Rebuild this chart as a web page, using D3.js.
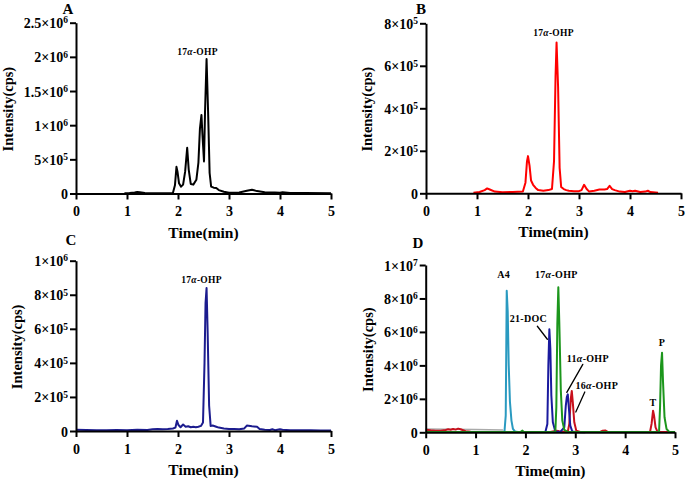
<!DOCTYPE html>
<html><head><meta charset="utf-8">
<script src="https://cdn.jsdelivr.net/npm/d3@7"></script>
<style>
body{margin:0;background:#fff}
svg{display:block}
text{font-family:"Liberation Serif","Times New Roman",serif;font-weight:bold;fill:#000}
</style>
</head><body>
<svg id="c" width="685" height="479"></svg>
<script>
// ---------- data ----------
const xTickValues = [0,1,2,3,4,5];
const xTickLabels = ["0","1","2","3","4","5"];

// Panel A (black)
const timeA = [0.95,1.05,1.15,1.2,1.25,1.35,1.5,1.7,1.9,1.94,1.97,1.99,2.02,2.06,2.1,2.14,2.18,2.21,2.25,2.3,2.36,2.4,2.43,2.46,2.48,2.51,2.53,2.56,2.59,2.62,2.65,2.7,2.75,2.8,2.9,3.0,3.2,3.35,3.45,3.55,3.7,3.9,4.0,4.05,4.2,4.5,5.0];
const intensityA = [5e3,8e3,1.5e4,2.2e4,1.8e4,8e3,5e3,5e3,6e3,1.2e5,3.9e5,3.2e5,1.5e5,1.0e5,1.3e5,3.2e5,6.7e5,3.5e5,1.4e5,1.3e5,2.0e5,4.5e5,9.5e5,1.15e6,8.5e5,4.7e5,1.2e6,1.97e6,1.2e6,3e5,1.0e5,8.5e4,8e4,5e4,2.5e4,1.2e4,1.5e4,4e4,5.5e4,3.5e4,2e4,1.5e4,1.2e4,1.8e4,8e3,6e3,5e3];
const yTickValuesA = [0,5e5,1e6,1.5e6,2e6,2.5e6];
const yTickLabelsA = ["0","5×10^5","1×10^6","1.5×10^6","2×10^6","2.5×10^6"];

// Panel B (red)
const timeB = [0.93,1.05,1.15,1.2,1.25,1.35,1.5,1.7,1.9,1.95,1.98,2.0,2.03,2.06,2.1,2.15,2.2,2.3,2.4,2.47,2.51,2.54,2.56,2.59,2.62,2.65,2.7,2.75,2.8,2.9,3.0,3.05,3.1,3.15,3.2,3.3,3.4,3.5,3.55,3.6,3.65,3.7,3.8,3.9,4.0,4.05,4.1,4.2,4.3,4.35,4.4,4.55];
const intensityB = [3e3,6e3,1.5e4,2.3e4,1.8e4,8e3,5e3,6e3,8e3,5e4,1.5e5,1.75e5,1.3e5,6e4,4e4,2.5e4,1.5e4,1.2e4,1.5e4,2e4,1.5e5,5.5e5,7.1e5,5e5,1.2e5,3e4,2e4,1.5e4,1.2e4,1e4,1e4,1.5e4,4e4,2e4,8e3,1.2e4,1.8e4,1.8e4,2e4,3.5e4,2e4,1.5e4,8e3,6e3,1.2e4,1e4,1.2e4,6e3,8e3,1.2e4,6e3,3e3];
const yTickValuesB = [0,2e5,4e5,6e5,8e5];
const yTickLabelsB = ["0","2×10^5","4×10^5","6×10^5","8×10^5"];

// Panel C (navy)
const timeC = [0,0.2,0.4,0.6,0.8,1.0,1.2,1.4,1.5,1.6,1.7,1.8,1.9,1.95,1.98,2.01,2.05,2.1,2.15,2.2,2.25,2.3,2.35,2.4,2.45,2.49,2.52,2.54,2.56,2.58,2.61,2.64,2.68,2.75,2.8,2.9,3.0,3.1,3.2,3.3,3.35,3.45,3.55,3.6,3.7,3.8,3.85,3.9,4.0,4.05,4.2,4.4,4.6,4.8,5.0];
const intensityC = [8e3,6e3,5e3,4e3,6e3,5e3,8e3,6e3,1e4,1.2e4,1e4,1.2e4,1.5e4,2e4,6e4,3.5e4,2.2e4,3.8e4,2.5e4,2.8e4,2.2e4,2.5e4,2.2e4,2.5e4,3e4,5e4,4e5,7.5e5,8.4e5,6e5,1.5e5,3e4,3.2e4,2.5e4,2e4,1.5e4,1.2e4,1.2e4,1e4,1.5e4,3.2e4,2.8e4,2.5e4,1.2e4,8e3,6e3,1e4,5e3,1e4,8e3,5e3,4e3,4e3,3e3,3e3];
const yTickValuesC = [0,2e5,4e5,6e5,8e5,1e6];
const yTickLabelsC = ["0","2×10^5","4×10^5","6×10^5","8×10^5","1×10^6"];

// Panel D (standards mixture)
const timeDGrey = [0,0.5,1.0,1.55];
const intensityDGrey = [2e5,1.8e5,1.6e5,1.4e5];
const timeDRed = [0,0.1,0.2,0.3,0.4,0.45,0.5,0.55,0.6,0.65,0.7,0.75,0.8,0.9,1.0,1.5,2.0,2.5,2.62,2.66,2.7,2.85,2.88,2.91,2.93,2.95,2.98,3.02,3.1,3.5,3.55,3.6,3.65,3.8,4.4,4.5,4.53,4.56,4.58,4.61,4.65,4.8,5];
const intensityDRed = [1.5e5,1.2e5,1e5,9e4,1.4e5,1.8e5,1.5e5,2e5,1.6e5,2.2e5,1.8e5,1.2e5,6e4,3e4,2e4,2e4,2e4,2e4,1e5,8e4,3e4,3e4,5e5,2e6,2.47e6,1.8e6,6e5,1e5,2e4,2e4,1e5,1.1e5,2e4,2e4,2e4,3e4,5e5,1.29e6,1e6,3e5,3e4,2e4,2e4];
const timeDTeal = [1.55,1.58,1.605,1.625,1.645,1.665,1.69,1.72,1.75,1.79,1.85];
const intensityDTeal = [2e4,5e4,1e6,8.46e6,7.2e6,4e6,1.8e6,7e5,2e5,5e4,2e4];
const timeDBlue = [2.0,2.4,2.44,2.46,2.48,2.5,2.52,2.55,2.6,2.7,2.78,2.81,2.83,2.85,2.87,2.9,2.94,3.0,3.2];
const intensityDBlue = [1e4,2e4,5e5,4e6,6.16e6,5e6,2.2e6,6e5,5e4,2e4,3e5,1.6e6,2.1e6,2.27e6,1.5e6,4e5,5e4,2e4,1e4];
const timeDGreen = [0,0.5,1,1.5,1.9,1.94,1.97,2.2,2.5,2.6,2.62,2.64,2.66,2.68,2.71,2.74,2.78,2.85,3.2,3.8,4.3,4.68,4.7,4.72,4.74,4.76,4.79,4.83,4.88,5];
const intensityDGreen = [2e4,2e4,2e4,2e4,2e4,1e5,2e4,2e4,2e4,3e4,1.5e6,6.5e6,8.67e6,6.5e6,2.5e6,7e5,1.5e5,3e4,2e4,2e4,2e4,2e4,1.5e6,4e6,4.76e6,3e6,9e5,2e5,4e4,2e4];
const yTickValuesD = [0,2e6,4e6,6e6,8e6,1e7];
const yTickLabelsD = ["0","2×10^6","4×10^6","6×10^6","8×10^6","1×10^7"];

const panelLetters = ["A","B","C","D"];
const peakNames = ["17α-OHP","A4","21-DOC","11α-OHP","16α-OHP","T","P"];
const xTitle = "Time(min)";
const yTitle = "Intensity(cps)";

// ---------- drawing ----------
const svg = d3.select("#c");

function zip(t,v){ return t.map((d,i)=>[d,v[i]]); }

function styledLabel(sel, s){
  const parts = s.split(/(α)/);
  parts.forEach(p=>{ if(!p) return; const ts = sel.append("tspan").text(p); if(p==="α") ts.attr("font-style","italic"); });
}

function panel(cfg){
  const g = svg.append("g");
  const x = d3.scaleLinear().domain([0,5]).range([cfg.x0,cfg.x1]);
  const y = d3.scaleLinear().domain([0,cfg.ymax]).range([cfg.y0,cfg.y1]);

  cfg.series.forEach(s=>{
    g.append("path").datum(zip(s.t,s.v))
      .attr("fill","none").attr("stroke",s.color).attr("stroke-width",s.w||2)
      .attr("stroke-linejoin","round")
      .attr("d", d3.line().x(d=>x(d[0])).y(d=>y(d[1])));
  });

  const xa = g.append("g").attr("transform",`translate(0,${cfg.y0})`)
    .call(d3.axisBottom(x).tickValues(xTickValues).tickFormat((d,i)=>xTickLabels[i]).tickSizeInner(6).tickSizeOuter(0).tickPadding(7));
  const ya = g.append("g").attr("transform",`translate(${cfg.x0},0)`)
    .call(d3.axisLeft(y).tickValues(cfg.yTicks).tickSizeInner(6).tickSizeOuter(0).tickPadding(2));
  [xa,ya].forEach(a=>{
    a.selectAll("path,line").attr("stroke","#000").attr("stroke-width",2);
    a.selectAll("text").attr("font-size","14px").attr("font-family",null);
  });
  ya.selectAll(".tick text").each(function(d,i){
    const t = d3.select(this); const parts = cfg.yLabels[i].split("^");
    t.text(null).attr("dy","0.36em");
    t.append("tspan").text(parts[0]);
    if(parts[1]) t.append("tspan").attr("dy","-0.5em").attr("font-size","9.5px").text(parts[1]);
  });

  g.append("text").attr("x",(cfg.x0+cfg.x1)/2).attr("y",cfg.y0+44).attr("text-anchor","middle")
    .attr("font-size","15.5px").text(xTitle);
  g.append("text").attr("transform",`translate(${cfg.ylx},${(cfg.y0+cfg.y1)/2+1}) rotate(-90)`)
    .attr("text-anchor","middle").attr("font-size","14.5px").text(yTitle);
  g.append("text").attr("x",cfg.lx).attr("y",cfg.ly).attr("text-anchor","middle")
    .attr("font-size","15px").text(cfg.letter);

  (cfg.ann||[]).forEach(a=>{
    const px = x(a.t), py = y(a.v);
    if(a.line){
      svg.append("line")
        .attr("x1",px+a.line[0]).attr("y1",py+a.line[1]).attr("x2",px+a.line[2]).attr("y2",py+a.line[3])
        .style("stroke","#000").style("stroke-width","1.3px").style("stroke-linecap","round");
    }
    const t = g.append("text").attr("x",px+a.dx).attr("y",py+a.dy).attr("text-anchor","middle")
      .attr("font-size",(cfg.annSize||9.5)+"px").attr("letter-spacing","0.3px");
    styledLabel(t,a.name);
  });
}

panel({letter:panelLetters[0], x0:76, x1:331, y0:193.5, y1:22.7, ymax:2.5e6, yTicks:yTickValuesA, yLabels:yTickLabelsA,
  ylx:12.5, lx:68, ly:14,
  series:[{t:timeA,v:intensityA,color:"#000"}],
  ann:[{name:peakNames[0], t:2.56, v:1.97e6, dx:-9, dy:-4}]});

panel({letter:panelLetters[1], x0:426, x1:681, y0:193.3, y1:23.3, ymax:8e5, yTicks:yTickValuesB, yLabels:yTickLabelsB,
  ylx:371.5, lx:421, ly:14,
  series:[{t:timeB,v:intensityB,color:"#ff0000"}],
  ann:[{name:peakNames[0], t:2.56, v:7.1e5, dx:-3, dy:-6}]});

panel({letter:panelLetters[2], x0:76, x1:331, y0:431, y1:260.7, ymax:1e6, yTicks:yTickValuesC, yLabels:yTickLabelsC,
  ylx:21.5, lx:71, ly:245,
  series:[{t:timeC,v:intensityC,color:"#1c1c8e"}],
  ann:[{name:peakNames[0], t:2.56, v:8.4e5, dx:-5, dy:-5}]});

panel({letter:panelLetters[3], x0:425.7, x1:675, y0:432.3, y1:265, ymax:1e7, yTicks:yTickValuesD, yLabels:yTickLabelsD,
  ylx:373, lx:418, ly:248, annSize:10,
  series:[
    {t:timeDGrey,v:intensityDGrey,color:"#aaaaaa",w:1.5},
    {t:timeDRed,v:intensityDRed,color:"#c8101c"},
    {t:timeDTeal,v:intensityDTeal,color:"#2a9ac0"},
    {t:timeDBlue,v:intensityDBlue,color:"#1a1a9e"},
    {t:timeDGreen,v:intensityDGreen,color:"#1c961c"}
  ],
  ann:[
    {name:peakNames[1], t:1.625, v:8.46e6, dx:-3, dy:-13},
    {name:peakNames[0], t:2.66, v:8.67e6, dx:-2, dy:-9},
    {name:peakNames[2], t:2.48, v:6.16e6, dx:-21, dy:-7, line:[-12,-3,-2,10]},
    {name:peakNames[3], t:2.85, v:2.27e6, dx:20, dy:-32, line:[15,-30,-1,-2]},
    {name:peakNames[4], t:2.93, v:2.47e6, dx:25, dy:-2, line:[13,1,4,21]},
    {name:peakNames[5], t:4.56, v:1.29e6, dx:0, dy:-5},
    {name:peakNames[6], t:4.74, v:4.76e6, dx:0, dy:-7}
  ]});
</script>
</body></html>
